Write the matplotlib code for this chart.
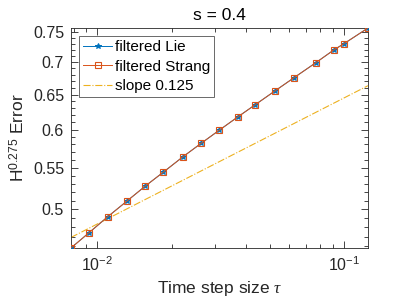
import numpy as np
import matplotlib
matplotlib.use("Agg")
import matplotlib.pyplot as plt
from matplotlib.ticker import FixedLocator, FixedFormatter, LogLocator, NullFormatter

plt.rcParams['font.family'] = ['Liberation Sans', 'DejaVu Sans']
plt.rcParams['mathtext.fontset'] = 'custom'
plt.rcParams['mathtext.rm'] = 'Liberation Sans'
plt.rcParams['mathtext.it'] = 'Liberation Serif:italic'

# step sizes (tau = 1/N)
steps_n = [128, 108, 91, 76, 64, 54, 45, 38, 32, 27, 23, 19, 16, 13, 11, 10, 8]
err_lie = [0.4579, 0.4743, 0.4916, 0.5096, 0.5274, 0.5446, 0.5640, 0.5815, 0.5995,
           0.6176, 0.6348, 0.6559, 0.6753, 0.6993, 0.7199, 0.7303, 0.7568]
err_strang = [0.4579, 0.4743, 0.4916, 0.5096, 0.5274, 0.5446, 0.5640, 0.5815, 0.5995,
              0.6176, 0.6348, 0.6559, 0.6753, 0.6993, 0.7199, 0.7303, 0.7568]
slope_order = 0.125
slope_const = 0.8603

ytick_vals = [0.5, 0.55, 0.6, 0.65, 0.7, 0.75]
ytick_labels = ['0.5', '0.55', '0.6', '0.65', '0.7', '0.75']

tau = 1.0 / np.array(steps_n, dtype=float)

c_blue = (0.0, 0.447, 0.741)
c_orange = (0.85, 0.325, 0.098)
c_yellow = (0.929, 0.694, 0.125)
c_axis = (0.15, 0.15, 0.15)

fig = plt.figure(figsize=(4.07, 3.05), dpi=100)
ax = fig.add_axes([0.1744, 0.1869, 0.7298, 0.7213])

ax.loglog(tau, err_lie, '-*', color=c_blue, lw=0.7, ms=4, mew=0.7,
          label='filtered Lie', zorder=3)
ax.loglog(tau, err_strang, '-s', color=c_orange, lw=0.7, ms=5, mew=0.8,
          mfc='none', label='filtered Strang', zorder=4)
ax.loglog(tau, slope_const * tau ** slope_order, '-.', color=c_yellow, lw=0.8,
          label='slope 0.125', zorder=2)

ax.set_xlim(tau.min(), tau.max())
ax.set_ylim(min(err_lie), max(err_lie))

ax.yaxis.set_major_locator(FixedLocator(ytick_vals))
ax.yaxis.set_major_formatter(FixedFormatter(ytick_labels))
ax.yaxis.set_minor_locator(FixedLocator(np.arange(0.45, 0.76, 0.01)))
ax.yaxis.set_minor_formatter(NullFormatter())
ax.xaxis.set_minor_locator(LogLocator(base=10, subs=np.arange(2, 10)))
ax.xaxis.set_minor_formatter(NullFormatter())

ax.tick_params(which='both', direction='in', top=True, right=True,
               colors=c_axis, labelsize=11.5, width=0.6)
ax.tick_params(which='major', length=5, pad=5)
ax.tick_params(which='minor', length=3)
for sp in ax.spines.values():
    sp.set_color(c_axis)
    sp.set_linewidth(0.6)

ax.set_title('s = 0.4', fontsize=12.5, color='black', pad=6)
ax.set_xlabel(r'Time step size $\tau$', fontsize=12.5, color=c_axis)
ax.set_ylabel(r'H$^{\mathrm{0.275}}$ Error', fontsize=12.5, color=c_axis)

leg = ax.legend(loc='upper left', fontsize=11, frameon=True, fancybox=False,
                edgecolor=c_axis, handlelength=1.9, handletextpad=0.15,
                borderpad=0.3, labelspacing=0.35, borderaxespad=0.5)
leg.get_frame().set_linewidth(0.6)

fig.savefig('out.png', dpi=100)
